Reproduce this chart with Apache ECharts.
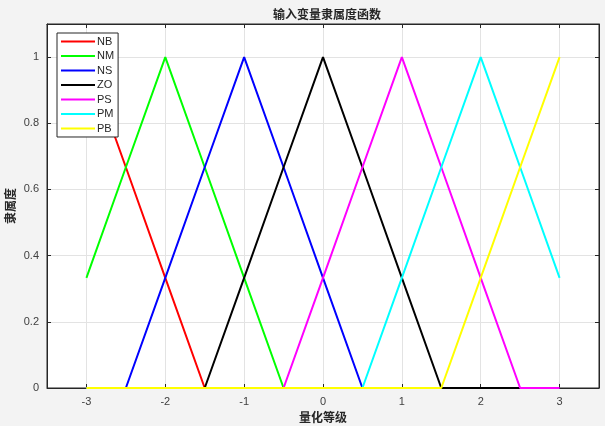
<!DOCTYPE html>
<html><head><meta charset="utf-8">
<script src="https://cdn.jsdelivr.net/npm/echarts@6/dist/echarts.min.js"></script>
<style>html,body{margin:0;padding:0;background:#f3f3f3}#c{width:605px;height:426px}</style>
</head><body><div id="c"></div>
<script>
const xs = [-3, -2.5, -2, -1.5, -1, -0.5, 0, 0.5, 1, 1.5, 2, 2.5, 3];
const NB = [1, 0.667, 0.333, 0, 0, 0, 0, 0, 0, 0, 0, 0, 0];
const NM = [0.333, 0.667, 1, 0.667, 0.333, 0, 0, 0, 0, 0, 0, 0, 0];
const NS = [0, 0, 0.333, 0.667, 1, 0.667, 0.333, 0, 0, 0, 0, 0, 0];
const ZO = [0, 0, 0, 0, 0.333, 0.667, 1, 0.667, 0.333, 0, 0, 0, 0];
const PS = [0, 0, 0, 0, 0, 0, 0.333, 0.667, 1, 0.667, 0.333, 0, 0];
const PM = [0, 0, 0, 0, 0, 0, 0, 0, 0.333, 0.667, 1, 0.667, 0.333];
const PB = [0, 0, 0, 0, 0, 0, 0, 0, 0, 0, 0.333, 0.667, 1];
const names = ['NB', 'NM', 'NS', 'ZO', 'PS', 'PM', 'PB'];
const values = [NB, NM, NS, ZO, PS, PM, PB];
const colors = ['#ff0000', '#00ff00', '#0000ff', '#000000', '#ff00ff', '#00ffff', '#ffff00'];
const xTicks = [-3, -2, -1, 0, 1, 2, 3];
const yTicks = [0, 0.2, 0.4, 0.6, 0.8, 1];
const title = '输入变量隶属度函数';
const xName = '量化等级';
const yName = '隶属度';

const font = 'Arial, "Liberation Sans", "Noto Sans CJK SC", sans-serif';
const chart = echarts.init(document.getElementById('c'));
const axisLine = { show: true, onZero: false, lineStyle: { color: '#262626', width: 1 } };
const tick = (vals) => ({ show: true, inside: true, length: 4, lineStyle: { color: '#262626' }, customValues: vals });
chart.setOption({
  backgroundColor: '#f3f3f3',
  animation: false,
  textStyle: { fontFamily: font },
  title: { text: title, left: 322, textAlign: 'center', top: 5,
    textStyle: { fontSize: 12, fontWeight: 'bold', color: '#262626', fontFamily: font } },
  grid: { left: 47, right: 6, top: 24, bottom: 38, show: true, backgroundColor: '#ffffff',
    borderColor: '#262626', borderWidth: 1, containLabel: false, outerBoundsMode: 'none' },
  legend: {
    orient: 'vertical', left: 57, top: 33, data: names,
    icon: 'rect', itemWidth: 34, itemHeight: 2, itemGap: 3.5,
    backgroundColor: '#ffffff', borderColor: '#262626', borderWidth: 1, padding: [3, 4, 3, 4],
    textStyle: { fontSize: 11, color: '#262626', padding: [0, 0, 0, -3] }
  },
  xAxis: [{
    type: 'value', min: -3.5, max: 3.5, position: 'bottom',
    name: xName, nameLocation: 'middle', nameGap: 25, nameMoveOverlap: false,
    nameTextStyle: { fontSize: 12, fontWeight: 'bold', color: '#262626' },
    axisLine, axisTick: tick(xTicks),
    axisLabel: { customValues: xTicks, fontSize: 11, color: '#404040', margin: 8 },
    splitLine: { show: true, lineStyle: { color: '#e3e3e3', width: 1 } }
  }, {
    type: 'value', min: -3.5, max: 3.5, position: 'top',
    axisLine, axisTick: tick(xTicks),
    axisLabel: { show: false, customValues: xTicks },
    splitLine: { show: false }
  }],
  yAxis: [{
    type: 'value', min: 0, max: 1.1, position: 'left',
    name: yName, nameLocation: 'middle', nameGap: 29, nameRotate: 90, nameMoveOverlap: false,
    nameTextStyle: { fontSize: 12, fontWeight: 'bold', color: '#262626' },
    axisLine, axisTick: tick(yTicks),
    axisLabel: { customValues: yTicks, fontSize: 11, color: '#404040', margin: 8 },
    splitLine: { show: true, lineStyle: { color: '#e3e3e3', width: 1 } }
  }, {
    type: 'value', min: 0, max: 1.1, position: 'right',
    axisLine, axisTick: tick(yTicks),
    axisLabel: { show: false, customValues: yTicks },
    splitLine: { show: false }
  }],
  series: names.map((n, i) => ({
    name: n, type: 'line', xAxisIndex: 0, yAxisIndex: 0,
    data: xs.map((x, j) => [x, values[i][j]]),
    symbol: 'none', color: colors[i],
    lineStyle: { width: 2, color: colors[i] }
  }))
});
</script></body></html>
